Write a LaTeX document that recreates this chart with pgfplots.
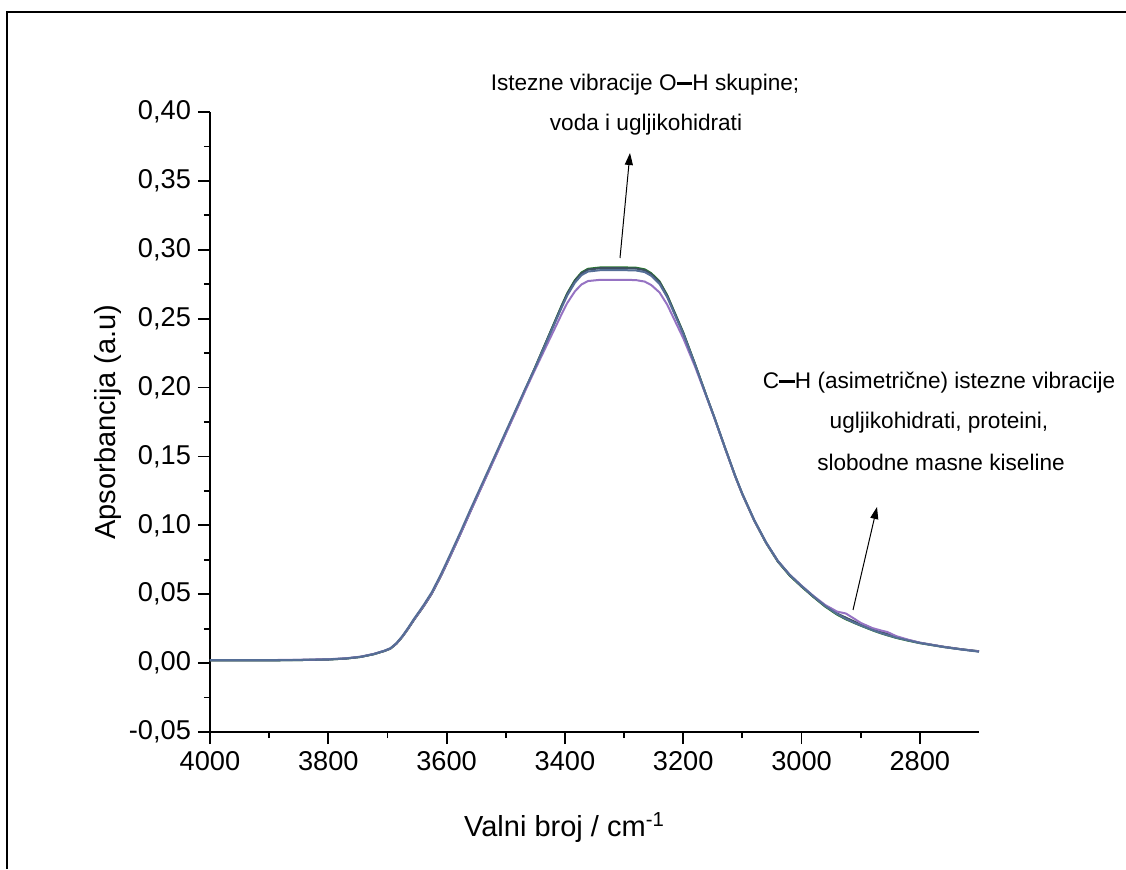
\documentclass[border=0pt]{standalone}
\usepackage{pgfplots}
\usepackage{pgfplotstable}
\pgfplotsset{compat=1.18}
\usepackage{fontspec}
\setmainfont{Liberation Sans}
\usetikzlibrary{arrows.meta}

\definecolor{cgreen}{RGB}{40,120,45}
\definecolor{cdark}{RGB}{60,80,95}
\definecolor{cblue}{RGB}{85,110,150}
\definecolor{cpurple}{RGB}{150,115,195}

% x = wavenumber; g, d, b, p = the four spectra
\pgfplotstableread{
x     g      d      b      p
4000  0.0020 0.0020 0.0021 0.0022
3900  0.0020 0.0020 0.0021 0.0022
3850  0.0022 0.0022 0.0023 0.0024
3800  0.0026 0.0026 0.0027 0.0028
3770  0.0033 0.0033 0.0034 0.0035
3745  0.0045 0.0045 0.0046 0.0047
3723  0.0065 0.0065 0.0066 0.0067
3705  0.0088 0.0088 0.0090 0.0090
3695  0.0105 0.0105 0.0108 0.0107
3685  0.0140 0.0140 0.0144 0.0142
3675  0.0190 0.0190 0.0195 0.0192
3665  0.0250 0.0250 0.0256 0.0252
3655  0.0315 0.0315 0.0322 0.0317
3645  0.0375 0.0375 0.0383 0.0377
3638  0.0418 0.0418 0.0427 0.0420
3625  0.0505 0.0505 0.0515 0.0507
3610  0.0630 0.0630 0.0641 0.0631
3600  0.0720 0.0720 0.0732 0.0720
3590  0.0813 0.0813 0.0825 0.0812
3577  0.0935 0.0935 0.0947 0.0933
3560  0.1100 0.1100 0.1112 0.1097
3540  0.1290 0.1290 0.1301 0.1286
3521  0.1470 0.1470 0.1480 0.1465
3500  0.1670 0.1670 0.1679 0.1664
3480  0.1860 0.1860 0.1868 0.1853
3467  0.1985 0.1985 0.1992 0.1978
3450  0.2150 0.2149 0.2147 0.2134
3430  0.2350 0.2348 0.2342 0.2314
3415  0.2500 0.2497 0.2489 0.2448
3405  0.2600 0.2596 0.2586 0.2538
3396  0.2685 0.2680 0.2669 0.2614
3383  0.2780 0.2775 0.2762 0.2699
3372  0.2835 0.2829 0.2816 0.2748
3361  0.2862 0.2856 0.2842 0.2773
3340  0.2872 0.2866 0.2852 0.2782
3300  0.2872 0.2866 0.2852 0.2782
3280  0.2870 0.2864 0.2850 0.2780
3265  0.2858 0.2852 0.2838 0.2769
3254  0.2830 0.2824 0.2811 0.2744
3240  0.2770 0.2765 0.2752 0.2690
3227  0.2670 0.2665 0.2655 0.2601
3215  0.2550 0.2546 0.2537 0.2493
3200  0.2400 0.2397 0.2391 0.2359
3180  0.2170 0.2169 0.2166 0.2152
3160  0.1930 0.1930 0.1930 0.1925
3148  0.1790 0.1790 0.1791 0.1787
3130  0.1570 0.1570 0.1572 0.1568
3112  0.1355 0.1355 0.1358 0.1354
3100  0.1225 0.1226 0.1229 0.1225
3080  0.1035 0.1036 0.1039 0.1036
3060  0.0872 0.0874 0.0877 0.0875
3040  0.0736 0.0739 0.0742 0.0741
3020  0.0635 0.0638 0.0641 0.0642
3000  0.0555 0.0558 0.0560 0.0562
2980  0.0480 0.0483 0.0485 0.0488
2960  0.0410 0.0415 0.0415 0.0422
2940  0.0352 0.0360 0.0357 0.0374
2925  0.0318 0.0330 0.0322 0.0360
2910  0.0290 0.0300 0.0292 0.0320
2900  0.0272 0.0280 0.0274 0.0292
2880  0.0238 0.0246 0.0240 0.0254
2865  0.0215 0.0224 0.0217 0.0236
2855  0.0202 0.0212 0.0204 0.0226
2840  0.0183 0.0190 0.0185 0.0196
2820  0.0163 0.0168 0.0165 0.0170
2800  0.0145 0.0148 0.0146 0.0148
2760  0.0117 0.0119 0.0117 0.0118
2730  0.0100 0.0101 0.0099 0.0100
2700  0.0085 0.0086 0.0083 0.0085
}\spectra

\begin{document}
\begin{tikzpicture}
% page = 1126 x 869 reference pixels at 0.5pt each
\useasboundingbox (0,0) rectangle (563pt,434.5pt);

\begin{axis}[
  at={(105pt,68.5pt)}, anchor=south west,
  scale only axis, width=384.5pt, height=310pt,
  x dir=reverse,
  xmin=2700, xmax=4000, ymin=-0.05, ymax=0.40,
  axis lines*=left,
  axis line style={line width=1pt, -},
  xtick={2800,3000,...,4000},
  ytick={-0.05,0,...,0.41},
  minor x tick num=1, minor y tick num=1,
  tick align=outside,
  major tick length=6pt, minor tick length=3pt,
  every tick/.style={line width=0.9pt, black},
  tick label style={font=\fontsize{13.6}{15}\selectfont},
  /pgf/number format/assume math mode=true,
  xticklabel style={/pgf/number format/.cd, set thousands separator={}},
  yticklabel style={/pgf/number format/.cd, use comma, fixed, fixed zerofill, precision=2},
  scaled y ticks=false,
  xlabel={Valni broj / cm\textsuperscript{-1}},
  ylabel={Apsorbancija (a.u)},
  label style={font=\fontsize{14.5}{16}\selectfont},
  xlabel style={xshift=-15pt, yshift=-14pt},
  ylabel style={yshift=-3pt},
  clip=false,
]
\addplot[cgreen, line width=1pt] table[x=x, y=g] {\spectra};
\addplot[cdark, line width=1pt] table[x=x, y=d] {\spectra};
\addplot[cpurple, line width=1pt] table[x=x, y=p] {\spectra};
\addplot[cblue, line width=1pt] table[x=x, y=b] {\spectra};
\end{axis}

% annotations and frame in reference pixel coordinates (y downwards)
\begin{scope}[shift={(0,434.5pt)}, x=0.5pt, y=-0.5pt,
  every node/.style={font=\fontsize{11.3}{13}\selectfont, inner sep=0pt}]
\draw[line width=1pt] (7,869) -- (7,12) -- (1126,12);
\node at (645,85) {Istezne vibracije O\rule[0.28em]{0.7em}{0.13em}H skupine;};
\node at (646,125) {voda i ugljikohidrati};
\draw[line width=0.5pt, -{Triangle[length=6pt,width=4pt]}] (620,258) -- (630,153);
\node at (939,383) {C\rule[0.28em]{0.7em}{0.13em}H (asimetrične) istezne vibracije};
\node at (939,423) {ugljikohidrati, proteini,};
\node at (941,462) {slobodne masne kiseline};
\draw[line width=0.5pt, -{Triangle[length=6pt,width=4pt]}] (853,610) -- (877,507);
\end{scope}
\end{tikzpicture}
\end{document}
